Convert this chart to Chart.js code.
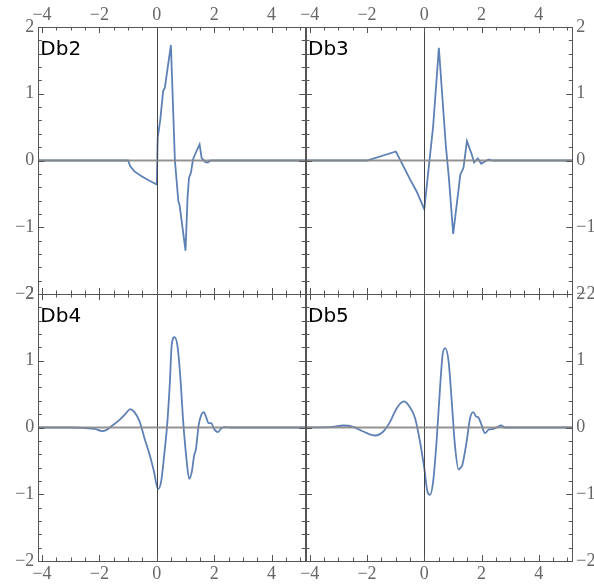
<!DOCTYPE html>
<html>
<head>
<meta charset="utf-8">
<script src="https://cdn.jsdelivr.net/npm/chart.js@4.4.0/dist/chart.umd.min.js"></script>
<style>
  body { margin: 0; background: #fff; }
  #wrap { position: relative; width: 594px; height: 584px; overflow: hidden; }
  #wrap canvas { position: absolute; left: 0; top: 0; }
</style>
</head>
<body>
<div id="wrap">
  <canvas id="c1" width="594" height="584"></canvas>
  <canvas id="c2" width="594" height="584"></canvas>
  <canvas id="c3" width="594" height="584"></canvas>
  <canvas id="c4" width="594" height="584"></canvas>
</div>
<script>
// wavelet samples
const db2X = [-4.2, -1.0, -0.93, -0.79, -0.53, -0.27, 0.0, 0.03, 0.12, 0.22, 0.28, 0.49, 0.63, 0.75, 0.79, 1.0, 1.07, 1.12, 1.19, 1.26, 1.33, 1.49, 1.56, 1.68, 1.77, 1.88, 5.3];
const db2Y = [0, 0, -0.085, -0.16, -0.235, -0.30, -0.36, 0.34, 0.61, 1.04, 1.09, 1.73, 0.0, -0.61, -0.66, -1.35, -0.56, -0.26, -0.18, 0.015, 0.09, 0.24, 0.04, -0.02, -0.03, 0.0, 0];

const db3X = [-4.2, -2.0, -0.99, -0.5, -0.27, 0.0, 0.31, 0.51, 0.75, 0.86, 1.01, 1.26, 1.37, 1.49, 1.66, 1.74, 1.87, 1.99, 2.13, 2.25, 2.39, 5.3];
const db3Y = [0, 0, 0.135, -0.28, -0.46, -0.73, 0.51, 1.69, 0.24, -0.26, -1.10, -0.21, -0.11, 0.29, 0.09, -0.03, 0.03, -0.05, -0.01, 0.015, 0, 0];

const db4X = [-4.2, -3.0, -2.5, -2.17, -1.9, -1.75, -1.59, -1.30, -1.07, -0.93, -0.78, -0.60, -0.43, -0.25, -0.10, 0.04, 0.15, 0.27, 0.36, 0.45, 0.52, 0.62, 0.73, 0.83, 0.91, 1.03, 1.13, 1.22, 1.30, 1.36, 1.46, 1.55, 1.64, 1.73, 1.80, 1.90, 1.99, 2.13, 2.25, 2.42, 2.6, 5.3];
const db4Y = [0, 0, -0.01, -0.02, -0.055, -0.035, 0.015, 0.115, 0.215, 0.275, 0.23, 0.09, -0.16, -0.41, -0.66, -0.92, -0.81, -0.36, 0.04, 0.64, 1.24, 1.355, 1.19, 0.69, 0.14, -0.46, -0.77, -0.66, -0.42, -0.33, 0.04, 0.19, 0.23, 0.14, 0.065, 0.065, -0.02, -0.07, -0.01, 0.005, 0, 0];

const db5X = [-4.2, -3.3, -2.83, -2.48, -2.13, -1.72, -1.43, -1.20, -0.96, -0.71, -0.52, -0.32, -0.15, 0.0, 0.11, 0.20, 0.31, 0.43, 0.55, 0.64, 0.73, 0.85, 0.96, 1.07, 1.20, 1.27, 1.33, 1.48, 1.60, 1.71, 1.81, 1.89, 2.0, 2.12, 2.24, 2.41, 2.53, 2.68, 2.82, 5.3];
const db5Y = [0, 0.005, 0.03, 0.01, -0.06, -0.12, -0.06, 0.08, 0.29, 0.39, 0.315, 0.14, -0.21, -0.61, -0.96, -1.01, -0.81, -0.21, 0.59, 1.09, 1.19, 0.99, 0.39, -0.26, -0.63, -0.60, -0.56, -0.21, 0.14, 0.23, 0.165, 0.15, 0.04, -0.085, -0.035, -0.02, 0.0, 0.03, 0, 0];

const panelNames = ['Db2', 'Db3', 'Db4', 'Db5'];
const xTickVals = [-4, -2, 0, 2, 4];
const yTickVals = [-2, -1, 0, 1, 2];

const X_MIN = -4.13, X_MAX = 5.17;
const Y_MIN = -2, Y_MAX = 2;
const LINE_COLOR = '#5d80b6';

// panel boxes on the page
const colLeft = [38.3, 306];
const colRight = [305.2, 572.3];
const rowTop = [27, 294];
const rowBottom = [294, 561];
const W = 594, H = 584;

const fmt = v => String(v).replace('-', '\u2212');

const framePlugin = {
  id: 'frame',
  afterDatasetsDraw(chart, args, opts) {
    const ctx = chart.ctx;
    const a = chart.chartArea;
    const xs = chart.scales.x, ys = chart.scales.y;
    ctx.save();

    // axis through x = 0
    const x0 = Math.round(xs.getPixelForValue(0)) + 0.5;
    ctx.strokeStyle = '#444';
    ctx.lineWidth = 1;
    ctx.beginPath();
    ctx.moveTo(x0, a.top);
    ctx.lineTo(x0, a.bottom);
    ctx.stroke();

    // axis through y = 0 (drawn over the curve)
    const y0 = ys.getPixelForValue(0);
    ctx.strokeStyle = 'rgba(135,135,135,0.9)';
    ctx.lineWidth = 2;
    ctx.beginPath();
    ctx.moveTo(a.left, y0);
    ctx.lineTo(a.right, y0);
    ctx.stroke();

    // frame
    ctx.strokeStyle = '#555';
    ctx.lineWidth = 1;
    ctx.strokeRect(Math.round(a.left) + 0.5, Math.round(a.top) + 0.5,
                   Math.round(a.right) - Math.round(a.left), Math.round(a.bottom) - Math.round(a.top));

    // inward ticks, major + minor
    ctx.beginPath();
    for (let i = -8; i <= 10; i++) {
      const v = i * 0.5;
      if (v < X_MIN || v > X_MAX) continue;
      const len = (i % 4 === 0) ? 6 : 3.5;
      const px = Math.round(xs.getPixelForValue(v)) + 0.5;
      ctx.moveTo(px, a.top); ctx.lineTo(px, a.top + len);
      ctx.moveTo(px, a.bottom); ctx.lineTo(px, a.bottom - len);
    }
    for (let i = -10; i <= 10; i++) {
      const v = i * 0.2;
      const len = (i % 5 === 0) ? 6 : 3.5;
      const py = Math.round(ys.getPixelForValue(v)) + 0.5;
      ctx.moveTo(a.left, py); ctx.lineTo(a.left + len, py);
      ctx.moveTo(a.right, py); ctx.lineTo(a.right - len, py);
    }
    ctx.stroke();

    // panel name
    ctx.fillStyle = '#000';
    ctx.font = '20px "DejaVu Sans"';
    ctx.textBaseline = 'alphabetic';
    ctx.textAlign = 'left';
    ctx.fillText(opts.name, a.left + 2, a.top + 28);
    ctx.restore();
  }
};

function makePanel(canvasId, idx, xsArr, ysArr, smooth) {
  const col = idx % 2, row = Math.floor(idx / 2);
  const padding = {
    left: col === 0 ? 0 : colLeft[1],
    right: col === 0 ? W - colRight[0] : 0,
    top: row === 0 ? 0 : rowTop[1],
    bottom: row === 0 ? H - rowBottom[0] : 0
  };
  const yWidth = col === 0 ? colLeft[0] : W - colRight[1];
  const xHeight = row === 0 ? rowTop[0] : H - rowBottom[1];
  const tickFont = { family: '"Liberation Serif", serif', size: 18 };

  return new Chart(document.getElementById(canvasId), {
    type: 'scatter',
    data: {
      datasets: [{
        data: xsArr.map((x, i) => ({ x: x, y: ysArr[i] })),
        showLine: true,
        borderColor: LINE_COLOR,
        borderWidth: 1.8,
        pointRadius: 0,
        tension: smooth ? 0.4 : 0,
        cubicInterpolationMode: smooth ? 'monotone' : 'default'
      }]
    },
    options: {
      responsive: false,
      animation: false,
      layout: { padding: padding },
      plugins: {
        legend: { display: false },
        tooltip: { enabled: false },
        frame: { name: panelNames[idx] }
      },
      scales: {
        x: {
          type: 'linear',
          position: row === 0 ? 'top' : 'bottom',
          min: X_MIN, max: X_MAX,
          grid: { display: false, drawTicks: false },
          border: { display: false },
          afterBuildTicks: s => { s.ticks = xTickVals.map(v => ({ value: v })); },
          afterFit: s => { s.height = xHeight; },
          ticks: {
            autoSkip: false, maxRotation: 0,
            padding: row === 0 ? 1 : 2,
            color: '#666', font: tickFont,
            callback: fmt
          }
        },
        y: {
          type: 'linear',
          position: col === 0 ? 'left' : 'right',
          min: Y_MIN, max: Y_MAX,
          grid: { display: false, drawTicks: false },
          border: { display: false },
          afterBuildTicks: s => { s.ticks = yTickVals.map(v => ({ value: v })); },
          afterFit: s => { s.width = yWidth; },
          ticks: {
            autoSkip: false,
            padding: 4,
            color: '#666', font: tickFont,
            callback: fmt
          }
        }
      }
    },
    plugins: [framePlugin]
  });
}

makePanel('c1', 0, db2X, db2Y, false);
makePanel('c2', 1, db3X, db3Y, false);
makePanel('c3', 2, db4X, db4Y, true);
makePanel('c4', 3, db5X, db5Y, true);
</script>
</body>
</html>
